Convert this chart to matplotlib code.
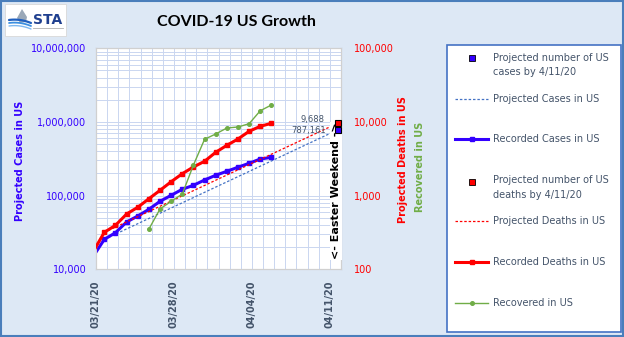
import numpy as np
import pandas as pd
import matplotlib
matplotlib.use('Agg')
import matplotlib.pyplot as plt
from matplotlib.patches import Rectangle, Polygon
from matplotlib.ticker import FuncFormatter, LogLocator, NullFormatter

# Data
rec_dates = pd.date_range('2020-03-20', '2020-04-05')
rec_cases = [15000, 25500, 31400, 43900, 52900, 65200, 83700, 101000, 122000,
             138000, 163000, 189000, 214000, 243000, 275000, 314000, 331000]
rec_deaths = [174, 318, 395, 563, 695, 908, 1180, 1545, 1985, 2450, 2925,
              3875, 4820, 5870, 7470, 8730, 9590]
recov_dates = pd.date_range('2020-03-25', '2020-04-05')
recovered = [352, 659, 838, 1052, 2605, 5820, 6870, 8280, 8550, 9470, 14200, 17000]
proj_dates = pd.to_datetime(['2020-03-21', '2020-04-11'])
proj_cases = [25500, 787161]
proj_deaths = [318, 9688]
tick_dates = pd.to_datetime(['2020-03-21', '2020-03-28', '2020-04-04', '2020-04-11'])
tick_labels = ['03/21/20', '03/28/20', '04/04/20', '04/11/20']

start = pd.Timestamp('2020-03-21')
shift = 0.75  # points sit 3/4 day right of the date ticks


def xpos(d):
    return (d - start).days + shift


BLUE = '#3300FF'
RED = '#FF0000'
GREEN = '#70AD47'
SLATE = '#44546A'
W, H = 624, 337

fig = plt.figure(figsize=(W / 100, H / 100), dpi=100, facecolor='#DDE8F5')


def fx(px):
    return px / W


def fy(py):
    return 1 - py / H


# overlay for frame, logo, legend (pixel coords)
ov = fig.add_axes([0, 0, 1, 1], zorder=-1)
ov.set_xlim(0, W)
ov.set_ylim(H, 0)
ov.axis('off')
ov.add_patch(Rectangle((0.8, 0.8), W - 1.6, H - 1.6, fill=False, ec='#4A7EBB', lw=1.5))

# logo
ov.add_patch(Rectangle((5, 4), 61, 32, fc='white', ec='#D8D8D8', lw=0.6))
ov.add_patch(Polygon([[22, 9], [17, 18], [20, 23], [26, 22], [27, 17]], fc='#9AA8B8', ec='none'))
for k, c in enumerate(['#1F5FBF', '#3C8FE0', '#7FB8F0']):
    t = np.linspace(0, 1, 20)
    ov.plot(9 + 22 * t, 20 + 3 * k + 6 * t ** 2 - 3 * t, color=c, lw=1.6 - 0.3 * k,
            solid_capstyle='round')
ov.text(48, 20, 'STA', fontsize=10, fontweight='bold', color='#1F3F8F',
        ha='center', va='center', family='DejaVu Sans')
ov.plot([33, 63], [27.5, 27.5], color='#B0B0B0', lw=0.6)

# title
fig.text(fx(236), fy(22), 'COVID-19 US Growth', fontsize=11.5, fontweight='bold',
         ha='center', va='center', family='Lato', color='black')

# main axes
ax = fig.add_axes([fx(96), fy(269.3), fx(341) - fx(96), fy(48.3) - fy(269.3)])
ax.set_facecolor('white')
ax2 = ax.twinx()
ax.set_yscale('log')
ax2.set_yscale('log')
ax.set_ylim(1e4, 1e7)
ax2.set_ylim(1e2, 1e5)
ax.set_xlim(0, 22)

ax.set_xticks([(d - start).days for d in tick_dates])
ax.set_xticklabels(tick_labels, rotation=90, fontsize=7, fontweight='bold', color=SLATE)
ax.set_xticks(np.arange(0, 23), minor=True)
ax.yaxis.set_minor_locator(LogLocator(base=10, subs=range(2, 10)))
ax.yaxis.set_minor_formatter(NullFormatter())
ax2.yaxis.set_minor_formatter(NullFormatter())
fmt = FuncFormatter(lambda v, p: f'{v:,.0f}')
ax.yaxis.set_major_formatter(fmt)
ax2.yaxis.set_major_formatter(fmt)
ax.tick_params(axis='y', which='major', labelsize=7, labelcolor=BLUE, pad=7)
ax2.tick_params(axis='y', which='major', labelsize=7, labelcolor=RED, pad=9)
ax.tick_params(axis='x', which='major', pad=8)
for a in (ax, ax2):
    a.tick_params(which='both', length=0)
    for s in a.spines.values():
        s.set_color('#D0D0D0')
        s.set_linewidth(0.8)
ax.grid(which='both', color='#CAD6F0', lw=0.7)
ax.set_axisbelow(True)

# cases (left axis)
ax.plot([xpos(d) for d in proj_dates], proj_cases, color='#4472C4', lw=0.9,
        dashes=(2, 1.5), zorder=2)
ax.plot([xpos(d) for d in rec_dates], rec_cases, color=BLUE, lw=2.2,
        marker='s', markersize=3.5, markevery=list(range(1, len(rec_cases))), zorder=3)

# deaths and recovered (right axis)
ax2.plot([xpos(d) for d in proj_dates], proj_deaths, color=RED, lw=0.9,
         dashes=(2, 1.5), zorder=2)
ax2.plot([xpos(d) for d in rec_dates], rec_deaths, color=RED, lw=2.2,
         marker='s', markersize=3.5, markevery=list(range(1, len(rec_deaths))), zorder=3)
ax2.plot([xpos(d) for d in recov_dates], recovered, color=GREEN, lw=1.0,
         marker='o', markersize=2.6, zorder=3)

ax2.text(0.98, 0.047, '<- Easter Weekend ->', transform=ax2.transAxes, rotation=90,
         ha='center', va='bottom', fontsize=8, fontweight='bold', color='black',
         bbox=dict(fc='white', ec='none', pad=0.6), zorder=4)

# projected end points
ax2.plot([xpos(proj_dates[1])], [proj_cases[1]], transform=ax.transData, ls='none',
         marker='s', markersize=5, mfc=BLUE, mec='black', mew=0.8, clip_on=False, zorder=6)
ax2.plot([xpos(proj_dates[1])], [proj_deaths[1]], ls='none', marker='s', markersize=5,
         mfc=RED, mec='black', mew=0.8, clip_on=False, zorder=6)
ax2.annotate(f'{proj_deaths[1]:,}', (xpos(proj_dates[1]), proj_deaths[1]),
             xytext=(-10, 2.2), textcoords='offset points', ha='right', va='center',
             fontsize=6, color=SLATE, zorder=5)
ax2.annotate(f'{proj_cases[1]:,}', (xpos(proj_dates[1]), proj_cases[1]),
             xycoords=ax.transData, xytext=(-9, -0.8), textcoords='offset points',
             ha='right', va='center', fontsize=6, color=SLATE, zorder=5)

# axis titles
fig.text(fx(20), fy(161), 'Projected Cases in US', rotation=90, ha='center', va='center',
         fontsize=7, fontweight='bold', color=BLUE)
fig.text(fx(403), fy(160), 'Projected Deaths in US', rotation=90, ha='center', va='center',
         fontsize=7, fontweight='bold', color=RED)
fig.text(fx(420), fy(167), 'Recovered in US', rotation=90, ha='center', va='center',
         fontsize=7, fontweight='bold', color=GREEN)

# legend
ov.add_patch(Rectangle((446.7, 45), 174.3, 286.7, fc='white', ec='#4472C4', lw=1.2))
tx = 493.3
lfs = 7
ov.plot([472.3], [58.3], ls='none', marker='s', markersize=4.5, mfc=BLUE, mec='black', mew=0.6)
ov.text(tx, 58.3, 'Projected number of US', fontsize=lfs, color=SLATE, va='center')
ov.text(tx, 72.3, 'cases by 4/11/20', fontsize=lfs, color=SLATE, va='center')
ov.plot([455, 488.3], [99.3, 99.3], color='#4472C4', lw=0.9, dashes=(2, 1.5))
ov.text(tx, 99.3, 'Projected Cases in US', fontsize=lfs, color=SLATE, va='center')
ov.plot([455, 472.3, 488.3], [139.3, 139.3, 139.3], color=BLUE, lw=2.2, marker='s',
        markersize=3.5, markevery=[1])
ov.text(tx, 139.3, 'Recorded Cases in US', fontsize=lfs, color=SLATE, va='center')
ov.plot([472.3], [181.7], ls='none', marker='s', markersize=4.5, mfc=RED, mec='black', mew=0.6)
ov.text(tx, 180.3, 'Projected number of US', fontsize=lfs, color=SLATE, va='center')
ov.text(tx, 194.7, 'deaths by 4/11/20', fontsize=lfs, color=SLATE, va='center')
ov.plot([455, 488.3], [221.3, 221.3], color=RED, lw=0.9, dashes=(2, 1.5))
ov.text(tx, 221.3, 'Projected Deaths in US', fontsize=lfs, color=SLATE, va='center')
ov.plot([455, 472.3, 488.3], [262.3, 262.3, 262.3], color=RED, lw=2.2, marker='s',
        markersize=3.5, markevery=[1])
ov.text(tx, 262.3, 'Recorded Deaths in US', fontsize=lfs, color=SLATE, va='center')
ov.plot([455, 472.3, 488.3], [303.3, 303.3, 303.3], color=GREEN, lw=1.0, marker='o',
        markersize=2.6, markevery=[1])
ov.text(tx, 303.3, 'Recovered in US', fontsize=lfs, color=SLATE, va='center')

plt.savefig('out.png', dpi=100, facecolor=fig.get_facecolor())
